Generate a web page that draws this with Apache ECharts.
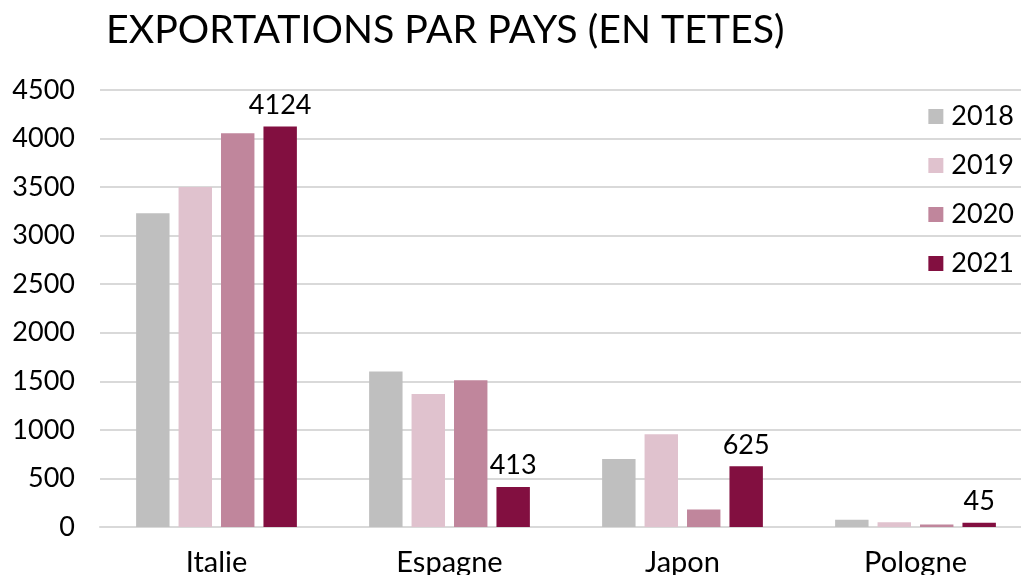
<!DOCTYPE html>
<html>
<head>
<meta charset="utf-8">
<script src="https://cdn.jsdelivr.net/npm/echarts@6/dist/echarts.min.js"></script>
<style>
  html, body { margin: 0; padding: 0; background: #fff; }
  #chart { width: 1021px; height: 575px; }
</style>
</head>
<body>
<div id="chart"></div>
<script>
const categories = ['Italie', 'Espagne', 'Japon', 'Pologne']
const years = ['2018', '2019', '2020', '2021']
const values2018 = [3230, 1600, 700, 75]
const values2019 = [3500, 1370, 955, 50]
const values2020 = [4055, 1510, 180, 25]
const values2021 = [4124, 413, 625, 45]
const colors = ['#bfbfbf', '#e0c2ce', '#c0869c', '#820f40']

const fontFamily = 'Lato, "Open Sans", sans-serif'
const allValues = [values2018, values2019, values2020, values2021]

const chart = echarts.init(document.getElementById('chart'))

const seriesData = allValues.map((vals, index) => {
  return {
    name: years[index],
    type: 'bar',
    data: vals,
    barGap: '27%',
    barCategoryGap: '31%',
    itemStyle: {
      color: colors[index]
    },
    label: {
      show: index === 3,
      position: 'top',
      distance: 8,
      color: '#000',
      fontSize: 27,
      fontFamily: fontFamily
    }
  }
})

chart.setOption({
  animation: false,
  title: {
    text: 'EXPORTATIONS PAR PAYS (EN TETES)',
    left: 101,
    top: 6,
    textStyle: {
      fontFamily: fontFamily,
      fontSize: 39.3,
      fontWeight: 'normal',
      color: '#000'
    }
  },
  legend: {
    orient: 'vertical',
    right: 2,
    top: 98,
    itemWidth: 15,
    itemHeight: 15,
    itemGap: 22,
    icon: 'rect',
    data: years,
    textStyle: {
      fontFamily: fontFamily,
      fontSize: 27,
      color: '#000',
      padding: [0, 0, 0, 3]
    }
  },
  grid: {
    left: 100,
    right: -11,
    top: 90,
    bottom: 48,
    outerBoundsMode: 'none'
  },
  xAxis: {
    type: 'category',
    data: categories,
    axisTick: { show: false },
    axisLine: { lineStyle: { color: '#d9d9d9', width: 2 } },
    axisLabel: {
      margin: 21,
      fontFamily: fontFamily,
      fontSize: 29,
      color: '#000'
    }
  },
  yAxis: {
    type: 'value',
    min: 0,
    max: 4500,
    interval: 500,
    axisLine: { show: false },
    axisTick: { show: false },
    splitLine: { lineStyle: { color: '#d9d9d9', width: 2 } },
    axisLabel: {
      margin: 25,
      fontFamily: fontFamily,
      fontSize: 27,
      color: '#000',
      formatter: value => String(value)
    }
  },
  series: seriesData
})
</script>
</body>
</html>
